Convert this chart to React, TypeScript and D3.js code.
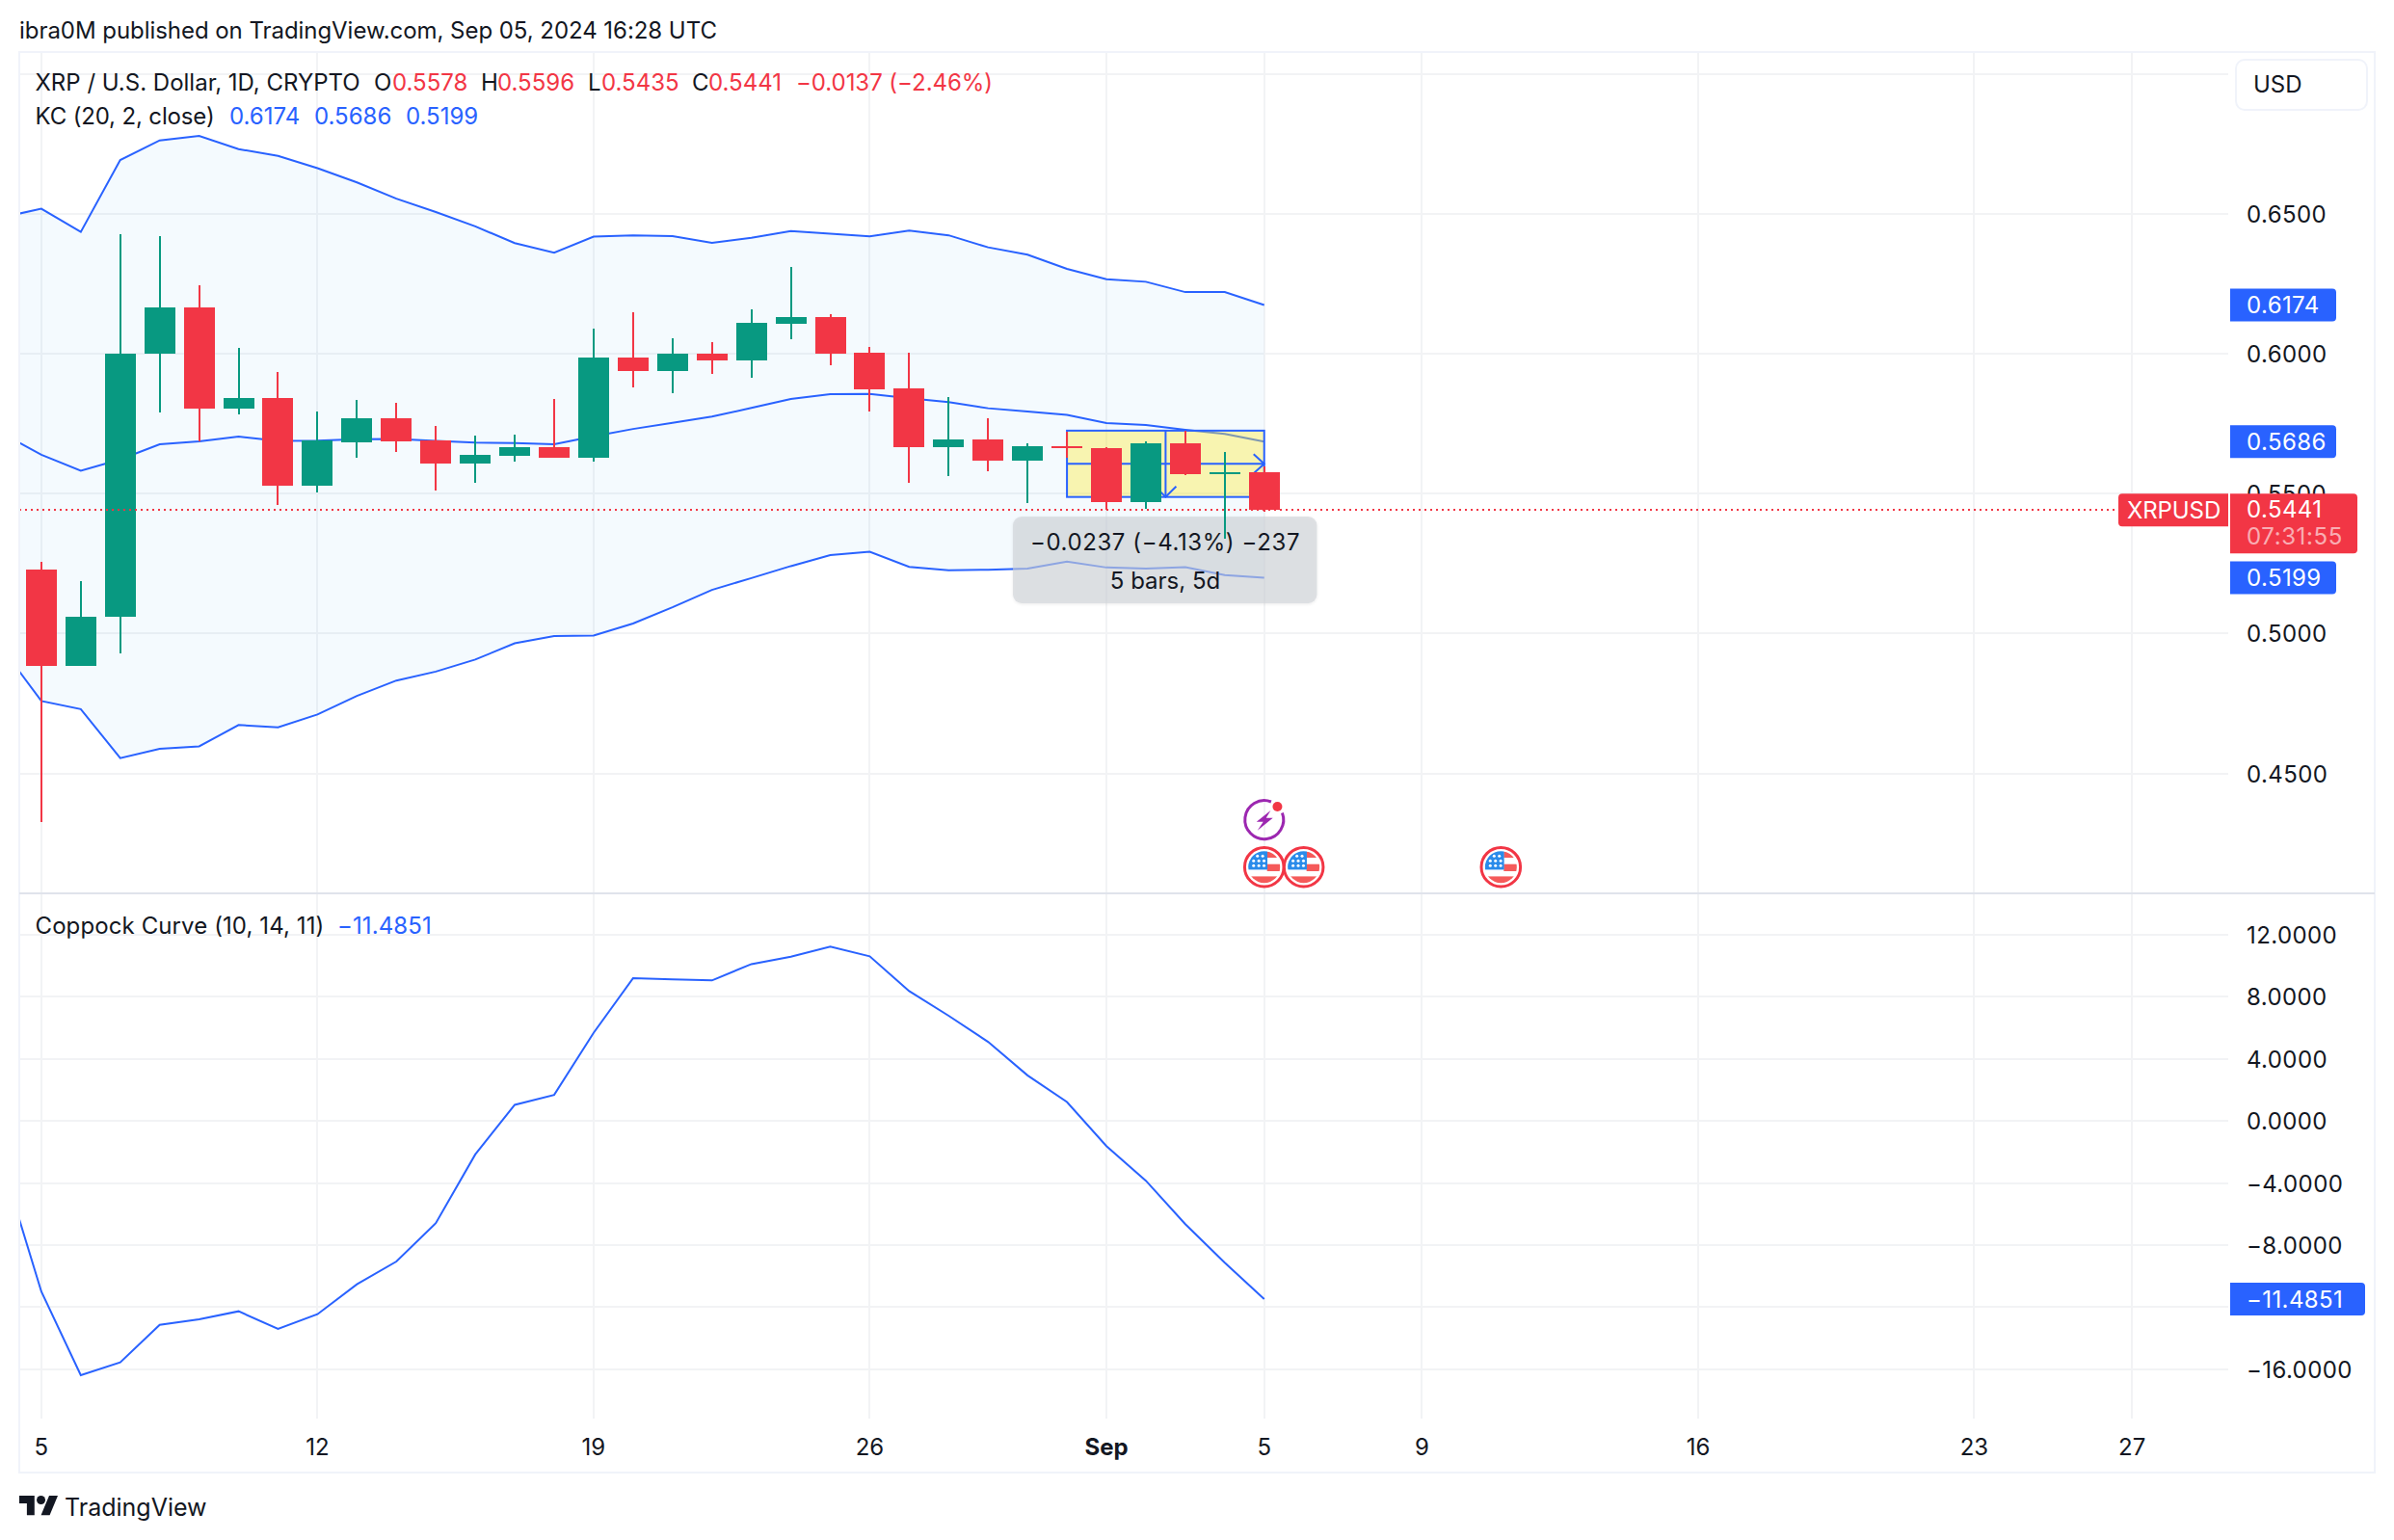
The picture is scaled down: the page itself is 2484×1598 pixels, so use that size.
import React from 'react';
import * as d3 from 'd3';

// one daily bar per entry, Aug 5 to Sep 5 2024
const opens = [0.5229, 0.4885, 0.506, 0.6, 0.6165, 0.5804, 0.5842, 0.5529, 0.5683, 0.5769, 0.569, 0.5607, 0.5635, 0.5666, 0.5628, 0.5986, 0.5938, 0.6, 0.5976, 0.6107, 0.6131, 0.6003, 0.5876, 0.5666, 0.5694, 0.5618, 0.5671, 0.5663, 0.5471, 0.568, 0.5571, 0.5578];
const highs = [0.5256, 0.5187, 0.6426, 0.642, 0.6244, 0.6021, 0.5935, 0.5793, 0.5835, 0.5824, 0.5742, 0.5707, 0.5711, 0.5838, 0.6089, 0.6148, 0.6055, 0.6041, 0.6158, 0.631, 0.6141, 0.6024, 0.6003, 0.5845, 0.5769, 0.568, 0.5722, 0.5666, 0.5687, 0.5725, 0.5648, 0.5596];
const lows = [0.4326, 0.4885, 0.4929, 0.5791, 0.5687, 0.5783, 0.5459, 0.5504, 0.5628, 0.5649, 0.5511, 0.5539, 0.5614, 0.5628, 0.5614, 0.588, 0.5859, 0.5928, 0.5914, 0.6052, 0.5959, 0.5793, 0.5539, 0.5563, 0.558, 0.5466, 0.5628, 0.5442, 0.5447, 0.5567, 0.534, 0.5435];
const closes = [0.4885, 0.506, 0.6, 0.6165, 0.5804, 0.5842, 0.5529, 0.5689, 0.5769, 0.5688, 0.5607, 0.5638, 0.5666, 0.5628, 0.5986, 0.5938, 0.6, 0.5976, 0.611, 0.6131, 0.6, 0.5873, 0.5666, 0.5694, 0.5618, 0.567, 0.5665, 0.5471, 0.568, 0.5571, 0.5578, 0.5441];

// indicators start one bar earlier, the pane clips that bar
const kcUpper = [0.6487, 0.6518, 0.6435, 0.6692, 0.6762, 0.6778, 0.6731, 0.6707, 0.6663, 0.6612, 0.6554, 0.6506, 0.6455, 0.6395, 0.6361, 0.6418, 0.6423, 0.642, 0.6396, 0.6414, 0.6438, 0.6429, 0.6419, 0.644, 0.6423, 0.638, 0.6354, 0.6303, 0.6266, 0.6257, 0.622, 0.622, 0.6174];
const kcMiddle = [0.5716, 0.5639, 0.5582, 0.5622, 0.5676, 0.5687, 0.5704, 0.5688, 0.5689, 0.5694, 0.5695, 0.5688, 0.5682, 0.5681, 0.5676, 0.5705, 0.5731, 0.5753, 0.5775, 0.5806, 0.5838, 0.5855, 0.5856, 0.5841, 0.5827, 0.5805, 0.5793, 0.5781, 0.5752, 0.5745, 0.5728, 0.5713, 0.5686];
const kcLower = [0.4948, 0.4759, 0.473, 0.4555, 0.4588, 0.4597, 0.4673, 0.4665, 0.4711, 0.4777, 0.4832, 0.4864, 0.4907, 0.4965, 0.4991, 0.4993, 0.5036, 0.5094, 0.5156, 0.5198, 0.5241, 0.528, 0.5292, 0.5238, 0.5226, 0.5228, 0.5232, 0.5257, 0.5236, 0.5232, 0.5237, 0.5209, 0.5199];
const coppock = [-2.67, -11.0, -16.39, -15.56, -13.14, -12.79, -12.27, -13.41, -12.46, -10.53, -9.06, -6.59, -2.16, 1.04, 1.68, 5.68, 9.2, 9.12, 9.06, 10.11, 10.59, 11.23, 10.61, 8.37, 6.78, 5.1, 2.94, 1.22, -1.62, -3.85, -6.65, -9.14, -11.4851];

const priceTicks = [0.45, 0.5, 0.55, 0.6, 0.65, 0.7];
const coppockTicks = [12, 8, 4, 0, -4, -8, -12, -16];
const dateTicks = [
  { day: 0, label: '5' },
  { day: 7, label: '12' },
  { day: 14, label: '19' },
  { day: 21, label: '26' },
  { day: 27, label: 'Sep', bold: true },
  { day: 31, label: '5' },
  { day: 35, label: '9' },
  { day: 42, label: '16' },
  { day: 49, label: '23' },
  { day: 53, label: '27' },
];
const flagDays = [31, 32, 37];
const flashDay = 31;
const rangeStart = 26;
const rangeEnd = 31;
const rangeTop = 0.5725;
const rangeBottom = 0.5488;

const WIDTH = 2484;
const HEIGHT = 1598;
const LEFT = 20;
const RIGHT = 2312;
const TOP = 54;
const SPLIT = 927;
const TIME_Y = 1472;
const FONT = 'Inter, "Noto Sans", sans-serif';
const INK = '#131722';
const GREEN = '#089981';
const RED = '#f23645';
const BLUE = '#2962ff';
const GRID = '#f2f3f5';
const FRAME = '#f0f3fa';
const AXIS_SPACING = 0.4;

const x = d3.scaleLinear().domain([0, 1]).range([42.9, 83.83]);
const yPrice = d3.scaleLinear().domain([0.45, 0.65]).range([802.6, 221.8]);
const yCoppock = d3.scaleLinear().domain([-16, 12]).range([1420.7, 970]);

const sign = (t: string) => t.replace(/-/g, '\u2212');
const fmt4 = d3.format('.4f');

const Label = ({ x, y, size = 24, fill = INK, anchor = 'start', weight = 400, spacing = 0, children }: any) => (
  <text
    x={x}
    y={y}
    fontSize={size}
    fill={fill}
    textAnchor={anchor}
    fontWeight={weight}
    letterSpacing={spacing}
    dominantBaseline="central"
  >
    {children}
  </text>
);

// left or right side rounded box for the axis tags
const Tag = ({ x0, x1, y0, y1, fill, side = 'right' }: any) => {
  const r = 4;
  const d =
    side === 'right'
      ? `M${x0} ${y0}H${x1 - r}Q${x1} ${y0} ${x1} ${y0 + r}V${y1 - r}Q${x1} ${y1} ${x1 - r} ${y1}H${x0}Z`
      : `M${x1} ${y0}H${x0 + r}Q${x0} ${y0} ${x0} ${y0 + r}V${y1 - r}Q${x0} ${y1} ${x0 + r} ${y1}H${x1}Z`;
  return <path d={d} fill={fill} />;
};

const Flag = ({ cx, cy, id }: any) => (
  <g transform={`translate(${cx} ${cy})`}>
    <clipPath id={id}>
      <circle r={16.5} />
    </clipPath>
    <circle r={20.3} fill="#fff" stroke={RED} strokeWidth={3} />
    <g clipPath={`url(#${id})`}>
      <rect x={3} y={-16} width={14} height={6.3} fill="#f55a5a" />
      <rect x={3} y={-3} width={14} height={7.3} fill="#f55a5a" />
      <rect x={-17} y={9.7} width={34} height={8} fill="#f55a5a" />
      <rect x={-17} y={-17} width={20.3} height={19.7} fill="#2a8bea" />
      {d3.range(3).map((r) =>
        d3.range(r === 0 ? 2 : 3).map((c) => (
          <circle key={`${r}-${c}`} cx={(r === 0 ? -7 : -11) + c * 5.4} cy={-11.5 + r * 5} r={1.5} fill="#fff" />
        )),
      )}
    </g>
  </g>
);

const App = () => {
  const barIndex = d3.range(opens.length);
  const kcIndex = d3.range(-1, kcUpper.length - 1);

  const upperLine = d3.line<number>().x((i) => x(i)).y((i) => yPrice(kcUpper[i + 1]));
  const middleLine = d3.line<number>().x((i) => x(i)).y((i) => yPrice(kcMiddle[i + 1]));
  const lowerLine = d3.line<number>().x((i) => x(i)).y((i) => yPrice(kcLower[i + 1]));
  const kcArea = d3
    .area<number>()
    .x((i) => x(i))
    .y0((i) => yPrice(kcLower[i + 1]))
    .y1((i) => yPrice(kcUpper[i + 1]));
  const coppockLine = d3.line<number>().x((i) => x(i)).y((i) => yCoppock(coppock[i + 1]));

  const rx0 = x(rangeStart);
  const rx1 = x(rangeEnd);
  const ry0 = yPrice(rangeTop);
  const ry1 = yPrice(rangeBottom);
  const rxm = (rx0 + rx1) / 2;
  const rym = (ry0 + ry1) / 2;
  const lastClose = closes[closes.length - 1];

  return (
    <svg
      width={WIDTH}
      height={HEIGHT}
      fontFamily={FONT}
      style={{ position: 'fixed', left: 0, top: 0, display: 'block', background: '#fff' }}
    >
      <defs>
        <clipPath id="pricePane">
          <rect x={LEFT} y={TOP} width={RIGHT - LEFT} height={SPLIT - TOP} />
        </clipPath>
        <clipPath id="coppockPane">
          <rect x={LEFT} y={SPLIT} width={RIGHT - LEFT} height={TIME_Y - SPLIT} />
        </clipPath>
        <filter id="soft" x="-5%" y="-10%" width="110%" height="125%">
          <feDropShadow dx={0} dy={1} stdDeviation={1.5} floodColor="#000" floodOpacity={0.12} />
        </filter>
      </defs>

      <Label x={20} y={31.5} spacing={-0.05}>ibra0M published on TradingView.com, Sep 05, 2024 16:28 UTC</Label>

      {/* grid */}
      <g shapeRendering="crispEdges">
        {priceTicks.map((t) => (
          <line key={t} x1={LEFT} x2={RIGHT} y1={yPrice(t)} y2={yPrice(t)} stroke={GRID} strokeWidth={2} />
        ))}
        {coppockTicks.map((t) => (
          <line key={t} x1={LEFT} x2={RIGHT} y1={yCoppock(t)} y2={yCoppock(t)} stroke={GRID} strokeWidth={2} />
        ))}
        {dateTicks.map((t) => (
          <line key={t.day} x1={x(t.day)} x2={x(t.day)} y1={TOP} y2={TIME_Y} stroke={GRID} strokeWidth={2} />
        ))}
      </g>

      {/* Keltner channel */}
      <g clipPath="url(#pricePane)">
        <path d={kcArea(kcIndex) as string} fill="rgba(33,150,243,0.05)" />
        <path d={upperLine(kcIndex) as string} fill="none" stroke={BLUE} strokeWidth={2} />
        <path d={middleLine(kcIndex) as string} fill="none" stroke={BLUE} strokeWidth={2} />
        <path d={lowerLine(kcIndex) as string} fill="none" stroke={BLUE} strokeWidth={2} />
      </g>

      {/* date and price range drawing, under the bars */}
      <rect x={rx0} y={ry0} width={rx1 - rx0} height={ry1 - ry0} fill="rgba(255,235,59,0.4)" stroke={BLUE} strokeWidth={2} />
      <line x1={rx0} x2={rx1} y1={rym} y2={rym} stroke={BLUE} strokeWidth={2} />
      <line x1={rxm} x2={rxm} y1={ry0} y2={ry1} stroke={BLUE} strokeWidth={2} />
      <path d={`M${rx1 - 11} ${rym - 10}L${rx1} ${rym}L${rx1 - 11} ${rym + 10}`} fill="none" stroke={BLUE} strokeWidth={2} />
      <path d={`M${rxm - 11} ${ry1 - 11}L${rxm} ${ry1}L${rxm + 11} ${ry1 - 11}`} fill="none" stroke={BLUE} strokeWidth={2} />
      <rect x={1051} y={536} width={315.5} height={90} rx={9} fill="rgba(205,208,214,0.6)" filter="url(#soft)" />

      {/* candles */}
      <g clipPath="url(#pricePane)" shapeRendering="crispEdges">
        {barIndex.map((i) => {
          const color = closes[i] >= opens[i] ? GREEN : RED;
          const top = yPrice(Math.max(opens[i], closes[i]));
          const bottom = yPrice(Math.min(opens[i], closes[i]));
          return (
            <g key={i}>
              <line x1={x(i)} x2={x(i)} y1={yPrice(highs[i])} y2={yPrice(lows[i])} stroke={color} strokeWidth={2} />
              <rect x={x(i) - 16} y={top} width={32} height={Math.max(bottom - top, 2)} fill={color} />
            </g>
          );
        })}
      </g>

      <line
        x1={LEFT}
        x2={2198}
        y1={yPrice(lastClose)}
        y2={yPrice(lastClose)}
        stroke={RED}
        strokeWidth={2}
        strokeDasharray="2 4"
        shapeRendering="crispEdges"
      />

      <Label x={1209} y={562} anchor="middle" spacing={0.6}>{'\u22120.0237 (\u22124.13%) \u2212237'}</Label>
      <Label x={1209} y={602} anchor="middle">5 bars, 5d</Label>

      {/* events */}
      <g transform={`translate(${x(flashDay)} 850.7)`}>
        <path d="M18.7 -7.2 A20 20 0 1 1 7.2 -18.7" fill="none" stroke="#9c27b0" strokeWidth={3} />
        <circle cx={13.7} cy={-13.7} r={5} fill={RED} />
        <path d="M6.7 -9.7 L-8 2 L-1 2 L-7 11 L9 -2 L2 -2 Z" fill="#9c27b0" />
      </g>
      {flagDays.map((d) => (
        <Flag key={d} id={`flag${d}`} cx={x(d)} cy={899.7} />
      ))}

      {/* Coppock curve */}
      <g clipPath="url(#coppockPane)">
        <path d={coppockLine(kcIndex) as string} fill="none" stroke={BLUE} strokeWidth={2} />
      </g>

      {/* frame */}
      <rect x={LEFT} y={TOP} width={2464 - LEFT} height={1528 - TOP} fill="none" stroke={FRAME} strokeWidth={2} />
      <line x1={LEFT} x2={2464} y1={SPLIT} y2={SPLIT} stroke="#e0e3eb" strokeWidth={2} />

      {/* legends */}
      <Label x={36.5} y={85.5}>XRP / U.S. Dollar, 1D, CRYPTO</Label>
      <Label x={388} y={85.5}>O</Label>
      <Label x={407} y={85.5} fill={RED}>0.5578</Label>
      <Label x={499} y={85.5}>H</Label>
      <Label x={516} y={85.5} fill={RED}>0.5596</Label>
      <Label x={610} y={85.5}>L</Label>
      <Label x={624} y={85.5} fill={RED}>0.5435</Label>
      <Label x={718} y={85.5}>C</Label>
      <Label x={735} y={85.5} fill={RED}>0.5441</Label>
      <Label x={826} y={85.5} fill={RED} spacing={-0.05}>{'\u22120.0137 (\u22122.46%)'}</Label>
      <Label x={36.5} y={120} spacing={-0.15}>KC (20, 2, close)</Label>
      <Label x={238} y={120} fill={BLUE}>0.6174</Label>
      <Label x={326} y={120} fill={BLUE}>0.5686</Label>
      <Label x={421} y={120} fill={BLUE}>0.5199</Label>
      <Label x={36.5} y={960} spacing={0.1}>Coppock Curve (10, 14, 11)</Label>
      <Label x={350} y={960} fill={BLUE} spacing={0.1}>{'\u221211.4851'}</Label>

      {/* price axis */}
      <rect x={2320} y={62} width={136} height={52} rx={9} fill="#fff" stroke={FRAME} strokeWidth={2} />
      <Label x={2338} y={87.5}>USD</Label>
      {priceTicks.filter((t) => t < 0.7).map((t) => (
        <Label key={t} x={2331} y={yPrice(t) + 0.5} spacing={AXIS_SPACING}>{fmt4(t)}</Label>
      ))}
      {[kcUpper, kcMiddle, kcLower].map((s, k) => {
        const v = s[s.length - 1];
        return (
          <g key={k}>
            <Tag x0={2314} x1={2424} y0={yPrice(v) - 17} y1={yPrice(v) + 17} fill={BLUE} />
            <Label x={2331} y={yPrice(v)} fill="#fff" spacing={AXIS_SPACING}>{fmt4(v)}</Label>
          </g>
        );
      })}
      <Tag x0={2198} x1={2312} y0={yPrice(lastClose) - 17} y1={yPrice(lastClose) + 17} fill={RED} side="left" />
      <Label x={2207} y={yPrice(lastClose)} fill="#fff" spacing={-0.1}>XRPUSD</Label>
      <Tag x0={2314} x1={2446} y0={yPrice(lastClose) - 17} y1={yPrice(lastClose) + 45} fill={RED} />
      <Label x={2331} y={yPrice(lastClose) - 0.5} fill="#fff" spacing={AXIS_SPACING}>{fmt4(lastClose)}</Label>
      <Label x={2331} y={556.5} fill="rgba(255,255,255,0.6)" spacing={0.6}>07:31:55</Label>

      {/* Coppock axis */}
      {coppockTicks.map((t) => (
        <Label key={t} x={2331} y={yCoppock(t) + 0.5} spacing={AXIS_SPACING}>{sign(fmt4(t))}</Label>
      ))}
      {(() => {
        const v = coppock[coppock.length - 1];
        return (
          <g>
            <Tag x0={2314} x1={2454} y0={yCoppock(v) - 17} y1={yCoppock(v) + 17} fill={BLUE} />
            <Label x={2331} y={yCoppock(v)} fill="#fff" spacing={AXIS_SPACING}>{sign(fmt4(v))}</Label>
          </g>
        );
      })()}

      {/* time axis */}
      {dateTicks.map((t) => (
        <Label key={t.day} x={x(t.day)} y={1501.5} anchor="middle" weight={t.bold ? 700 : 400}>
          {t.label}
        </Label>
      ))}

      {/* footer */}
      <g transform="translate(20 1547.5) scale(1.127)" fill={INK}>
        <path d="M14 22H7V11H0V4h14v18zM28 22h-8l7.5-18h8L28 22z" />
        <circle cx={20} cy={8} r={4} />
      </g>
      <Label x={67} y={1564} size={25}>TradingView</Label>
    </svg>
  );
};

export default App;
